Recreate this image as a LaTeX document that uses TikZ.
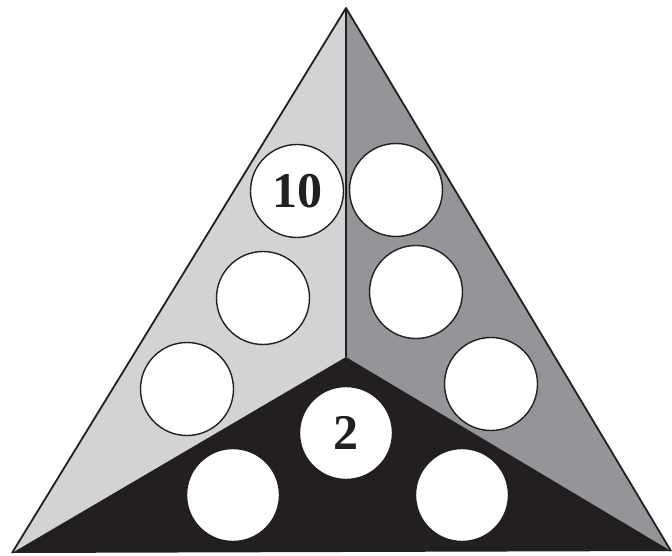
\documentclass[tikz,border=0pt]{standalone}
\usepackage{fontspec}
\setmainfont{Liberation Serif}
\usepackage{xcolor}
\definecolor{lightface}{RGB}{209,211,212}
\definecolor{darkface}{RGB}{147,149,152}
\definecolor{inkcol}{RGB}{35,31,32}
\tikzset{
  hole/.style={circle, draw=inkcol, line width=1.4pt, fill=white,
    minimum size=93pt, inner sep=0pt, text=inkcol, font=\fontsize{50}{50}\selectfont\bfseries}
}

\begin{document}
\begin{tikzpicture}[x=1pt, y=-1pt, line join=round]
\useasboundingbox (0,0) rectangle (672,556);

% ------------------------------------------------------------------
% Corners of the big triangle and its centre
% ------------------------------------------------------------------
\coordinate (apex) at (346,8);
\coordinate (bl) at (12,553);
\coordinate (br) at (671,551);
\coordinate (mid) at (346,357);

% ------------------------------------------------------------------
% Three faces
% ------------------------------------------------------------------
\fill[lightface] (apex) -- (mid) -- (bl) -- cycle;   % left face
\fill[darkface] (apex) -- (br) -- (mid) -- cycle;    % right face
\fill[inkcol] (bl) -- (mid) -- (br) -- cycle;        % bottom face

\draw[inkcol, line width=1.8pt] (bl) -- (apex) -- (br);
\draw[inkcol, line width=1.2pt] (apex) -- (mid);

% ------------------------------------------------------------------
% Holes (left face, right face, bottom face)
% ------------------------------------------------------------------
\node[hole] (l1) at (297,191) {10};
\node[hole] (l2) at (263,298) {};
\node[hole] (l3) at (187,389) {};
\node[hole] (r1) at (396,190) {};
\node[hole] (r2) at (416,292) {};
\node[hole] (r3) at (491,384) {};
\node[hole] (b1) at (346,433) {2};
\node[hole] (b2) at (233,495) {};
\node[hole] (b3) at (462,495) {};

\end{tikzpicture}
\end{document}
